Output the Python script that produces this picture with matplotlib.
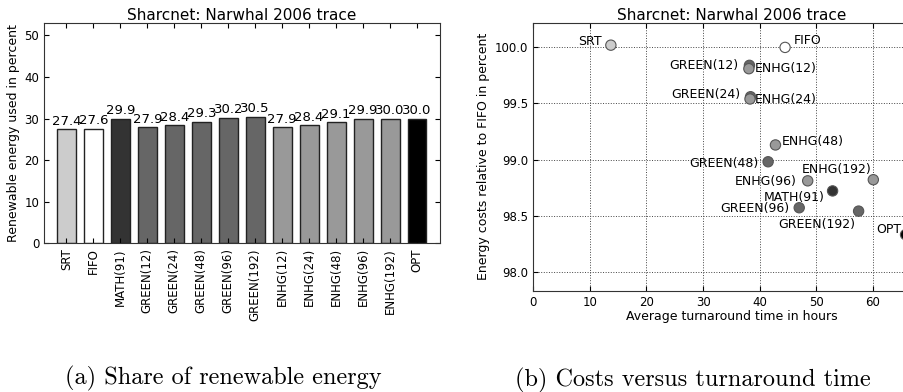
import matplotlib
matplotlib.use("Agg")
import matplotlib.pyplot as plt

# Data: share of renewable energy per scheduler
schedulers = ["SRT", "FIFO", "MATH(91)", "GREEN(12)", "GREEN(24)", "GREEN(48)",
              "GREEN(96)", "GREEN(192)", "ENHG(12)", "ENHG(24)", "ENHG(48)",
              "ENHG(96)", "ENHG(192)", "OPT"]
renewable_share = [27.4, 27.6, 29.9, 27.9, 28.4, 29.3, 30.2, 30.5,
                   27.9, 28.4, 29.1, 29.9, 30.0, 30.0]

# Data: turnaround time (hours) vs energy cost relative to FIFO (percent)
scatter_names = ["SRT", "FIFO", "GREEN(12)", "ENHG(12)", "GREEN(24)", "ENHG(24)",
                 "ENHG(48)", "GREEN(48)", "ENHG(192)", "ENHG(96)", "MATH(91)",
                 "GREEN(96)", "GREEN(192)", "OPT"]
turnaround = [13.7, 44.5, 38.2, 38.1, 38.4, 38.3, 42.8, 41.5, 60.1, 48.5, 52.9,
              47.0, 57.5, 65.8]
energy_cost = [100.02, 100.0, 99.84, 99.81, 99.56, 99.54, 99.13, 98.98, 98.82,
               98.81, 98.72, 98.57, 98.54, 98.33]


def scheduler_color(name):
    if name == "SRT":
        return "#cccccc"
    if name == "FIFO":
        return "white"
    if name.startswith("MATH"):
        return "#333333"
    if name.startswith("GREEN"):
        return "#666666"
    if name.startswith("ENHG"):
        return "#999999"
    return "black"


# label placement (pixel offsets from point, horizontal alignment)
label_offsets = {
    "SRT": (-9, 4, "right"), "FIFO": (9, 7, "left"),
    "GREEN(12)": (-11, 0, "right"), "ENHG(12)": (6, 0, "left"),
    "GREEN(24)": (-10, 2, "right"), "ENHG(24)": (5, -1, "left"),
    "ENHG(48)": (6, 3, "left"), "GREEN(48)": (-10, -2, "right"),
    "ENHG(192)": (-2, 10, "right"), "ENHG(96)": (-11, -1, "right"),
    "MATH(91)": (-8, -7, "right"), "GREEN(96)": (-10, -1, "right"),
    "GREEN(192)": (-3, -13, "right"), "OPT": (-4, 5, "right"),
}

plt.rcParams["font.family"] = "DejaVu Sans"
plt.rcParams["font.size"] = 9
plt.rcParams["xtick.labelsize"] = 8.5
plt.rcParams["ytick.labelsize"] = 8.5
plt.rcParams["xtick.direction"] = "in"
plt.rcParams["ytick.direction"] = "in"
plt.rcParams["xtick.top"] = True
plt.rcParams["ytick.right"] = True
plt.rcParams["axes.edgecolor"] = "#333333"

fig = plt.figure(figsize=(9.04, 3.92), dpi=100)

# (a) bar chart
ax1 = fig.add_axes([0.0487, 0.3793, 0.438, 0.562])
xs = list(range(len(schedulers)))
colors = [scheduler_color(n) for n in schedulers]
ax1.bar(xs, renewable_share, width=0.7, color=colors, edgecolor="#222222", linewidth=1.0)
for x, v in zip(xs, renewable_share):
    ax1.text(x, v + 0.4, f"{v:.1f}", ha="center", va="bottom", fontsize=9.5)
ax1.set_xlim(-0.83, 13.85)
ax1.set_ylim(0, 53)
ax1.set_yticks([0, 10, 20, 30, 40, 50])
ax1.set_xticks(xs)
ax1.set_xticklabels(schedulers, rotation=90)
ax1.set_ylabel("Renewable energy used in percent", labelpad=3)
ax1.set_title("Sharcnet: Narwhal 2006 trace", fontsize=11, pad=2)

# (b) scatter chart
ax2 = fig.add_axes([0.590, 0.2584, 0.438, 0.6836])
ax2.grid(True, linestyle=":", color="#444444", linewidth=0.7)
ax2.set_axisbelow(True)
ax2.scatter(turnaround, energy_cost, s=55, c=[scheduler_color(n) for n in scatter_names],
            edgecolors="#555555", linewidths=0.8, zorder=3)
for name, x, y in zip(scatter_names, turnaround, energy_cost):
    dx, dy, ha = label_offsets[name]
    ax2.annotate(name, (x, y), xytext=(dx, dy), textcoords="offset pixels",
                 ha=ha, va="center", fontsize=9, zorder=4)
ax2.set_xlim(0, 70)
ax2.set_ylim(97.83, 100.22)
ax2.set_xticks([0, 10, 20, 30, 40, 50, 60, 70])
ax2.set_yticks([98.0, 98.5, 99.0, 99.5, 100.0])
ax2.yaxis.set_major_formatter(plt.FormatStrFormatter("%.1f"))
ax2.set_xlabel("Average turnaround time in hours", labelpad=1)
ax2.set_ylabel("Energy costs relative to FIFO in percent")
ax2.set_title("Sharcnet: Narwhal 2006 trace", fontsize=11, pad=2)

# captions
fig.text(223 / 904, 1 - 378 / 392, "(a) Share of renewable energy",
         family="cmr10", fontsize=17.5, ha="center", va="center")
fig.text(693 / 904, 1 - 380 / 392, "(b) Costs versus turnaround time",
         family="cmr10", fontsize=17.5, ha="center", va="center")

fig.savefig("out.png", dpi=100)
